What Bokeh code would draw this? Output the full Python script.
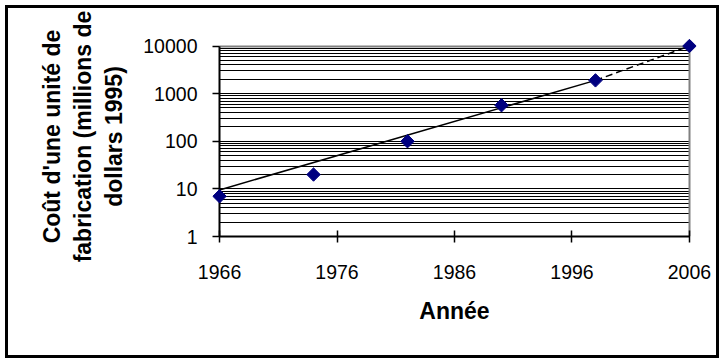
import math
from bokeh.plotting import figure
from bokeh.models import FixedTicker, Range1d, PrintfTickFormatter, Grid
from bokeh.embed import file_html
from bokeh.resources import INLINE

# ---- data ----
years = [1966, 1974, 1982, 1990, 1998, 2006]
costs = [7, 20, 100, 570, 1900, 10000]
trend_years = [1966, 1998]
trend_costs = [9.5, 1900]
forecast_years = [1998, 2006]
forecast_costs = [1900, 10000]
x_ticks = [1966, 1976, 1986, 1996, 2006]
y_ticks = [1, 10, 100, 1000, 10000]
y_minor = [m * 10 ** e for e in range(4) for m in range(2, 10)]
x_label = "Année"
y_label = "Coût d'une unité de\nfabrication (millions de\ndollars 1995)"

FONT = "Liberation Sans"
x_lo, x_hi = x_ticks[0], x_ticks[-1]
y_lo, y_hi = y_ticks[0], y_ticks[-1]
PAD_YR = 0.6      # room so that edge markers are not cut by the frame

p = figure(width=708, height=347, y_axis_type="log",
           x_range=Range1d(x_lo - PAD_YR, x_hi + PAD_YR),
           y_range=Range1d(y_lo, y_hi * 10 ** 0.2),
           output_backend="svg", toolbar_location=None,
           min_border_left=204, min_border_right=20,
           min_border_top=28, min_border_bottom=119)
p.styles = {"margin": "8px 0 0 8px", "outline": "3px solid black"}
p.background_fill_color = "white"
p.border_fill_color = "white"
p.outline_line_color = None

# grids
p.xgrid.visible = False
yt = FixedTicker(ticks=y_ticks, minor_ticks=y_minor)
p.yaxis.ticker = yt
p.ygrid.ticker = yt
p.ygrid.grid_line_color = "black"
p.ygrid.grid_line_width = 1
p.ygrid.minor_grid_line_color = "black"
p.ygrid.minor_grid_line_width = 1
p.ygrid.cross_bounds = (x_lo, x_hi)

# plot-area border (grey top and right edges)
p.add_layout(Grid(dimension=0, ticker=FixedTicker(ticks=[x_hi]),
                  grid_line_color="#808080", grid_line_width=2,
                  cross_bounds=(y_lo, y_hi)))
p.add_layout(Grid(dimension=1, ticker=FixedTicker(ticks=[y_hi]),
                  grid_line_color="#808080", grid_line_width=2,
                  cross_bounds=(x_lo, x_hi)))
# vertical axis line at the first year
p.add_layout(Grid(dimension=0, ticker=FixedTicker(ticks=[x_lo]),
                  grid_line_color="black", grid_line_width=2,
                  cross_bounds=(y_lo, y_hi)))

# axes
p.xaxis.ticker = FixedTicker(ticks=x_ticks, minor_ticks=[])
p.xaxis.bounds = (x_lo, x_hi)
p.yaxis.bounds = (y_lo, y_hi)
p.yaxis.formatter = PrintfTickFormatter(format="%d")
for ax in (p.xaxis, p.yaxis):
    ax.axis_line_color = "black"
    ax.axis_line_width = 2
    ax.major_tick_line_color = "black"
    ax.major_tick_line_width = 1.5
    ax.minor_tick_line_color = None
    ax.major_label_text_font = FONT
    ax.major_label_text_font_size = "19.5px"
    ax.major_label_text_color = "black"
    ax.axis_label_text_font = FONT
    ax.axis_label_text_font_style = "bold"
    ax.axis_label_text_color = "black"
p.yaxis.axis_line_color = None
p.xaxis.major_tick_in = 6
p.xaxis.major_tick_out = 6
p.yaxis.major_tick_in = 7
p.yaxis.major_tick_out = 0
p.xaxis.major_label_standoff = 22
p.yaxis.major_label_standoff = 11
p.xaxis.axis_label = x_label
p.xaxis.axis_label_text_font_size = "23px"
p.xaxis.axis_label_standoff = 16
p.yaxis.axis_label = y_label
p.yaxis.axis_label_text_font_size = "23px"
p.yaxis.axis_label_text_line_height = 1.2
p.yaxis.axis_label_standoff = 13

# trend lines
p.line(trend_years, trend_costs, line_color="black", line_width=1.5)
p.line(forecast_years, forecast_costs, line_color="black", line_width=1.5,
       line_dash="7 4")

# points
p.scatter(years, costs, marker="square", angle=math.pi / 4, size=9.5,
          fill_color="#000080", line_color="#000080")

open("out.html", "w").write(file_html(p, INLINE))
